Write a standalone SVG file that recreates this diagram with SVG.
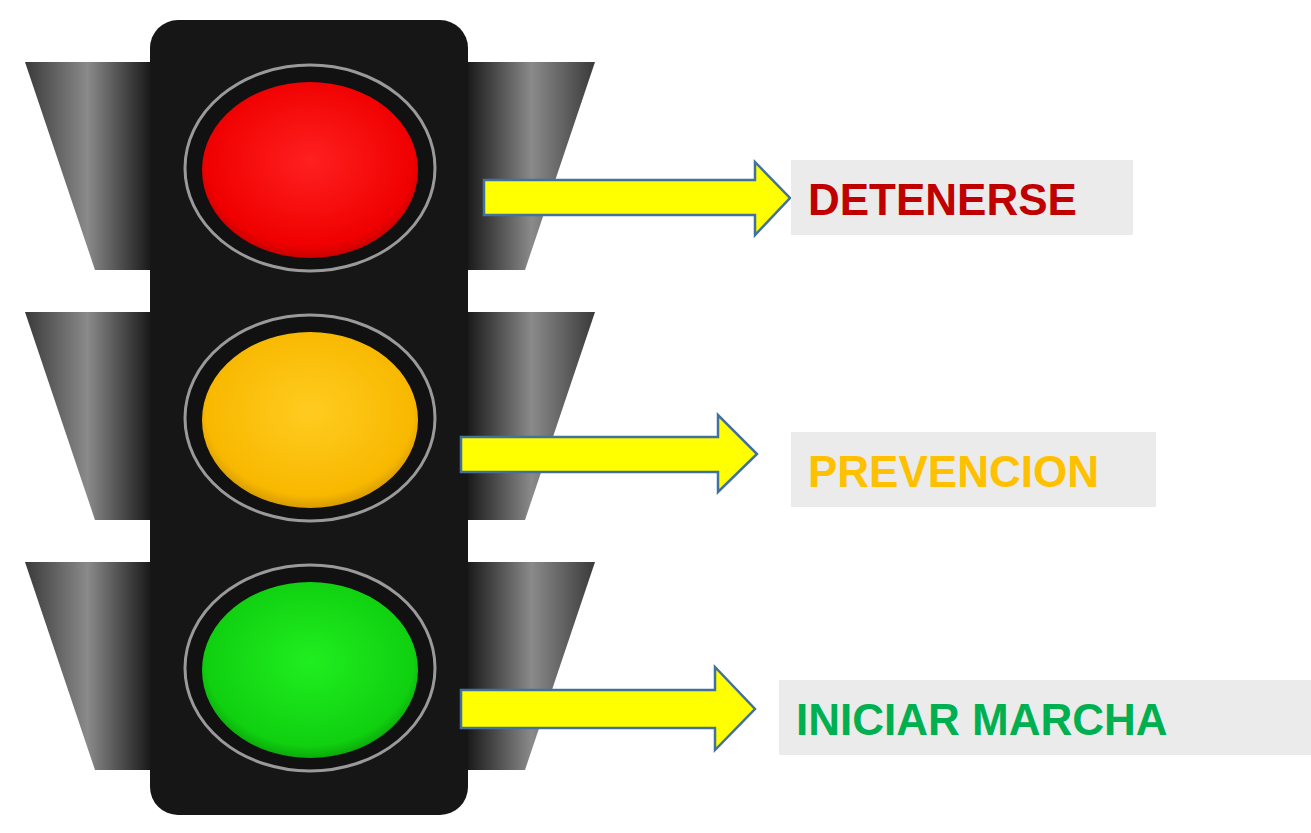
<svg xmlns="http://www.w3.org/2000/svg" width="1311" height="833" viewBox="0 0 1311 833">
<defs>
<linearGradient id="visL" x1="0" x2="1" y1="0" y2="0"><stop offset="0" stop-color="#3a3a3a"/><stop offset="0.5" stop-color="#8a8a8a"/><stop offset="1" stop-color="#1a1a1a"/></linearGradient>
<linearGradient id="visR" x1="0" x2="1" y1="0" y2="0"><stop offset="0" stop-color="#1a1a1a"/><stop offset="0.5" stop-color="#8a8a8a"/><stop offset="1" stop-color="#3a3a3a"/></linearGradient>
<radialGradient id="red" cx="0.5" cy="0.45" r="0.6"><stop offset="0" stop-color="#ff2020"/><stop offset="0.8" stop-color="#f00000"/><stop offset="1" stop-color="#b00000"/></radialGradient>
<radialGradient id="yel" cx="0.5" cy="0.45" r="0.6"><stop offset="0" stop-color="#ffcc20"/><stop offset="0.8" stop-color="#f8b800"/><stop offset="1" stop-color="#c08800"/></radialGradient>
<radialGradient id="grn" cx="0.5" cy="0.45" r="0.6"><stop offset="0" stop-color="#20ee20"/><stop offset="0.8" stop-color="#10d010"/><stop offset="1" stop-color="#089008"/></radialGradient>
</defs>
<style>
.ring{fill:#111;stroke:#9a9a9a;stroke-width:3}
.arrow{fill:#ffff00;stroke:#41719c;stroke-width:2.5}
.box{fill:#ebebeb}
.lbl{font-family:"Liberation Sans",Arial,sans-serif;font-weight:bold;font-size:44px}
</style>
<rect width="1311" height="833" fill="#fff"/>
<g id="traffic-light">
<g id="visors">
<path d="M25 62 H150 V270 H95 Z" fill="url(#visL)"/>
<path d="M468 62 H595 L525 270 H468 Z" fill="url(#visR)"/>
<path d="M25 312 H150 V520 H95 Z" fill="url(#visL)"/>
<path d="M468 312 H595 L525 520 H468 Z" fill="url(#visR)"/>
<path d="M25 562 H150 V770 H95 Z" fill="url(#visL)"/>
<path d="M468 562 H595 L525 770 H468 Z" fill="url(#visR)"/>
</g>
<rect x="150" y="20" width="318" height="795" rx="28" fill="#161616"/>
<g id="red-light"><ellipse class="ring" cx="310" cy="168" rx="125" ry="103"/><ellipse cx="310" cy="170" rx="108" ry="88" fill="url(#red)"/></g>
<g id="yellow-light"><ellipse class="ring" cx="310" cy="418" rx="125" ry="103"/><ellipse cx="310" cy="420" rx="108" ry="88" fill="url(#yel)"/></g>
<g id="green-light"><ellipse class="ring" cx="310" cy="668" rx="125" ry="103"/><ellipse cx="310" cy="670" rx="108" ry="88" fill="url(#grn)"/></g>
</g>
<g id="connectors">
<path class="arrow" d="M484 180 H755 V162 L790 198 L755 235 V215 H484 Z"/>
<path class="arrow" d="M461 437 H718 V415 L757 454 L718 492 V472 H461 Z"/>
<path class="arrow" d="M461 690 H715 V667 L755 709 L715 750 V728 H461 Z"/>
</g>
<g id="label-detenerse"><rect class="box" x="791" y="160" width="342" height="75"/><text class="lbl" x="808" y="215" fill="#c00000">DETENERSE</text></g>
<g id="label-prevencion"><rect class="box" x="791" y="432" width="365" height="75"/><text class="lbl" x="808" y="487" fill="#ffc000">PREVENCION</text></g>
<g id="label-iniciar"><rect class="box" x="779" y="680" width="532" height="75"/><text class="lbl" x="796" y="735" fill="#00b050">INICIAR MARCHA</text></g>
</svg>
